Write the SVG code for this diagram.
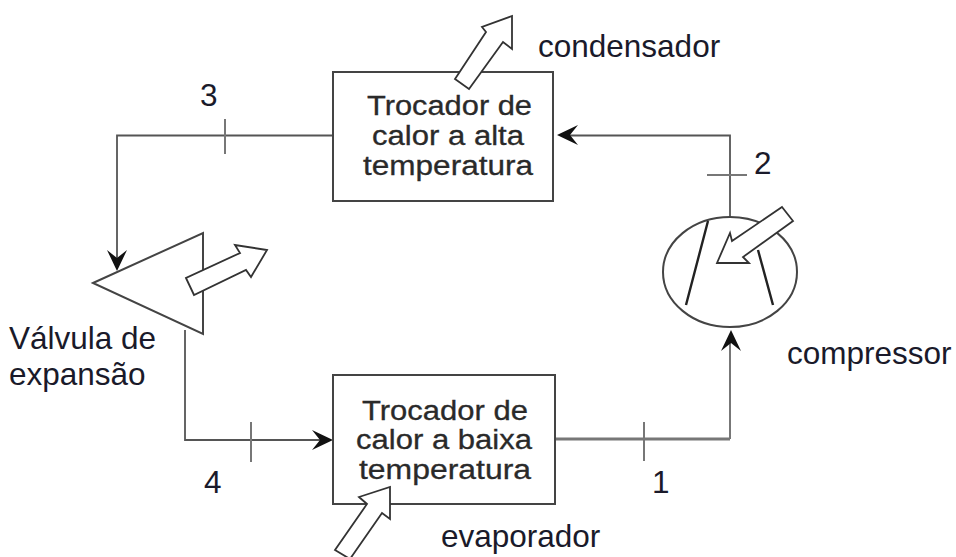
<svg xmlns="http://www.w3.org/2000/svg" width="956" height="557" viewBox="0 0 956 557">
<style>
.l{fill:none;stroke:#555;stroke-width:1.8}
.k{fill:none;stroke:#777;stroke-width:2}
.s{fill:#fff;stroke:#444;stroke-width:2}
.a{fill:#fff;stroke:#333;stroke-width:1.8}
.t{font-family:"Liberation Sans",Arial,sans-serif;font-size:31.5px;fill:#1a1a2a}
.b{font-family:"Liberation Sans",Arial,sans-serif;font-size:27px;fill:#2a2a2a;stroke:#2a2a2a;stroke-width:.3}
.h{fill:#111}
</style>
<defs>
<path id="ah" class="h" d="M0 0L-21 -10L-13 0L-21 10Z"/>
</defs>
<rect width="956" height="557" fill="#fff"/>
<g id="connectors">
<path class="l" d="M333 135.500H117V262"/>
<path class="k" d="M225 119V154"/>
<path class="l" d="M730 217V135.500H568"/>
<path class="k" d="M707 175H747"/>
<path class="l" d="M185 330V440H322"/>
<path class="k" d="M251 422V462"/>
<path class="l" d="M555 439H730" style="stroke-width:3;stroke:#777"/>
<path class="k" d="M730 439V340"/>
<path class="k" d="M644 422V461"/>
<use href="#ah" transform="translate(117 271) rotate(90)"/>
<use href="#ah" transform="translate(557 135) rotate(180)"/>
<use href="#ah" transform="translate(333 440)"/>
<use href="#ah" transform="translate(731 330) rotate(-90)"/>
</g>
<g id="condensador-box">
<rect class="s" x="333" y="72" width="220" height="129"/>
<text class="b" x="367" y="115" textLength="165" lengthAdjust="spacingAndGlyphs">Trocador de</text>
<text class="b" x="372" y="145" textLength="152" lengthAdjust="spacingAndGlyphs">calor a alta</text>
<text class="b" x="363" y="175" textLength="170" lengthAdjust="spacingAndGlyphs">temperatura</text>
<path class="a" d="M455 79L469 89L503 42L512 49V16L482 27L486 32Z"/>
</g>
<g id="evaporador-box">
<rect class="s" x="333" y="375" width="222" height="129"/>
<text class="b" x="362" y="420" textLength="166" lengthAdjust="spacingAndGlyphs">Trocador de</text>
<text class="b" x="356" y="449" textLength="176" lengthAdjust="spacingAndGlyphs">calor a baixa</text>
<text class="b" x="359" y="479" textLength="172" lengthAdjust="spacingAndGlyphs">temperatura</text>
<path class="a" d="M335 550L350 559L382 513L390 519V487L359 497L367 504Z"/>
</g>
<g id="valvula">
<path class="s" d="M93 283L203 233V334Z"/>
<path class="a" d="M186 278L194 295L246 270L251 277L267 250L235 245L240 253Z"/>
</g>
<g id="compressor">
<ellipse class="s" cx="730" cy="272" rx="67" ry="55"/>
<path class="l" d="M708 221L686 305M758 250L773 305" style="stroke-width:2.4;stroke:#222"/>
<path class="a" d="M782 207L793 221L743 257L749 263H717L730 233L732 241Z"/>
</g>
<g id="labels">
<text class="t" x="538" y="57">condensador</text>
<text class="t" x="200" y="106">3</text>
<text class="t" x="754" y="174">2</text>
<text class="t" x="9" y="349">Válvula de</text>
<text class="t" x="9" y="385">expansão</text>
<text class="t" x="787" y="364">compressor</text>
<text class="t" x="204" y="493">4</text>
<text class="t" x="652" y="493">1</text>
<text class="t" x="441" y="547">evaporador</text>
</g>
</svg>
